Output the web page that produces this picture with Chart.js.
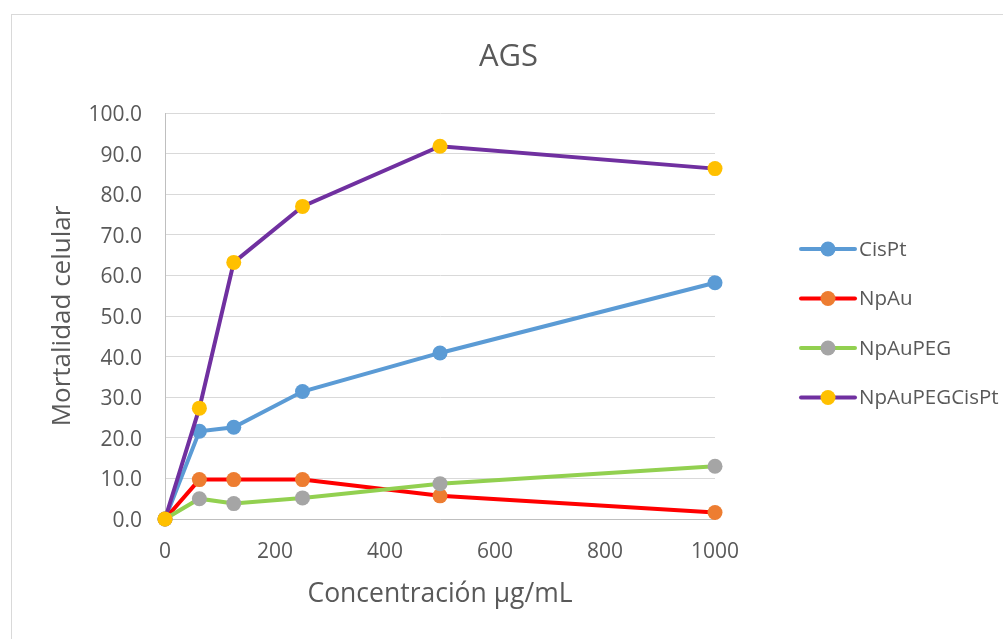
<!DOCTYPE html>
<html>
<head>
<meta charset="utf-8">
<script src="https://cdn.jsdelivr.net/npm/chart.js@4.4.1/dist/chart.umd.min.js"></script>
<style>
  html, body { margin: 0; padding: 0; background: #fff; overflow: hidden; }
  #wrap { position: relative; width: 1003px; height: 639px; overflow: hidden; }
  #frame { position: absolute; left: 11px; top: 14px; width: 1100px; height: 700px; border: 1px solid #d9d9d9; }
  #chart { position: absolute; left: 0; top: 0; }
</style>
</head>
<body>
<div id="wrap">
  <div id="frame"></div>
  <canvas id="chart" width="1017" height="639"></canvas>
</div>
<script>
// Datos del gráfico
const concentraciones = [0, 62.5, 125, 250, 500, 1000];
const cisPt = [0, 21.6, 22.6, 31.4, 40.9, 58.2];
const npAu = [0, 9.7, 9.7, 9.7, 5.7, 1.6];
const npAuPeg = [0, 5.0, 3.8, 5.2, 8.7, 13.0];
const npAuPegCisPt = [0, 27.3, 63.2, 77.0, 91.8, 86.3];
const nombres = ["CisPt", "NpAu", "NpAuPEG", "NpAuPEGCisPt"];
const yTicks = [0, 10, 20, 30, 40, 50, 60, 70, 80, 90, 100];
const xTicks = [0, 200, 400, 600, 800, 1000];

const colorLinea = ["#5B9BD5", "#FF0000", "#92D050", "#7030A0"];
const colorPunto = ["#5B9BD5", "#ED7D31", "#A5A5A5", "#FFC000"];
const textoGris = "#595959";
const fuente = "'Open Sans', sans-serif";

const toPoints = (vals) => vals.map((v, i) => ({ x: concentraciones[i], y: v }));

const series = [cisPt, npAu, npAuPeg, npAuPegCisPt];
const datasets = series.map((vals, i) => ({
  label: nombres[i],
  data: toPoints(vals),
  borderColor: colorLinea[i],
  backgroundColor: colorPunto[i],
  pointBackgroundColor: colorPunto[i],
  pointBorderColor: colorPunto[i],
  pointBorderWidth: 0,
  pointRadius: 7.5,
  borderWidth: 4,
  tension: 0,
  clip: false,
  order: series.length - i,
}));

// Leyenda dibujada a mano (línea + marcador)
const leyenda = {
  id: "leyenda",
  afterDraw(chart) {
    const ctx = chart.ctx;
    const x0 = 801, x1 = 855, y0 = 249, paso = 49.5;
    ctx.save();
    chart.data.datasets.forEach((ds, i) => {
      const y = y0 + i * paso;
      ctx.strokeStyle = ds.borderColor;
      ctx.lineWidth = 4;
      ctx.lineCap = "round";
      ctx.beginPath();
      ctx.moveTo(x0, y);
      ctx.lineTo(x1, y);
      ctx.stroke();
      ctx.fillStyle = ds.pointBackgroundColor;
      ctx.beginPath();
      ctx.arc((x0 + x1) / 2, y, 7.5, 0, Math.PI * 2);
      ctx.fill();
      ctx.fillStyle = textoGris;
      ctx.font = "20.5px " + fuente;
      ctx.textBaseline = "middle";
      ctx.textAlign = "left";
      ctx.fillText(ds.label, x1 + 4, y + 1);
    });
    ctx.restore();
  },
};

const ctx = document.getElementById("chart").getContext("2d");
new Chart(ctx, {
  type: "line",
  data: { datasets: datasets },
  options: {
    responsive: false,
    animation: false,
    devicePixelRatio: 1,
    layout: { padding: 0 },
    plugins: {
      legend: { display: false },
      tooltip: { enabled: false },
      title: {
        display: true,
        text: "AGS",
        color: textoGris,
        font: { family: fuente, size: 31, weight: "normal", lineHeight: 1.2 },
        padding: { top: 38.5, bottom: 37.3 },
      },
    },
    scales: {
      x: {
        type: "linear",
        min: 0,
        max: 1000,
        afterBuildTicks: (s) => { s.ticks = xTicks.map((v) => ({ value: v })); },
        afterFit: (s) => { s.height = 120; },
        grid: { display: false, drawTicks: false },
        border: { display: true, color: "#BFBFBF", width: 1 },
        ticks: {
          color: textoGris,
          padding: 20,
          font: { family: fuente, size: 21 },
          callback: (v) => String(v),
        },
        title: {
          display: true,
          text: "Concentración µg/mL",
          color: textoGris,
          font: { family: fuente, size: 26.5, lineHeight: 1.2 },
          padding: { top: 0, bottom: 29 },
        },
      },
      y: {
        min: 0,
        max: 100,
        afterBuildTicks: (s) => { s.ticks = yTicks.map((v) => ({ value: v })); },
        afterFit: (s) => { s.width = 165; },
        grid: { color: "#D9D9D9", lineWidth: 1, drawTicks: false },
        border: { display: true, color: "#BFBFBF", width: 1 },
        ticks: {
          color: textoGris,
          padding: 23,
          labelOffset: 2,
          font: { family: fuente, size: 21 },
          callback: (v) => Number(v).toFixed(1),
        },
        title: {
          display: true,
          text: "Mortalidad celular",
          color: textoGris,
          font: { family: fuente, size: 26, lineHeight: 1.2 },
          padding: { top: 47, bottom: 0 },
        },
      },
      // espacio reservado a la derecha para la leyenda
      espacio: {
        type: "linear",
        position: "right",
        display: true,
        afterFit: (s) => { s.width = 302; },
        grid: { display: false, drawTicks: false },
        border: { display: false },
        ticks: { display: false },
      },
    },
  },
  plugins: [leyenda],
});
</script>
</body>
</html>
